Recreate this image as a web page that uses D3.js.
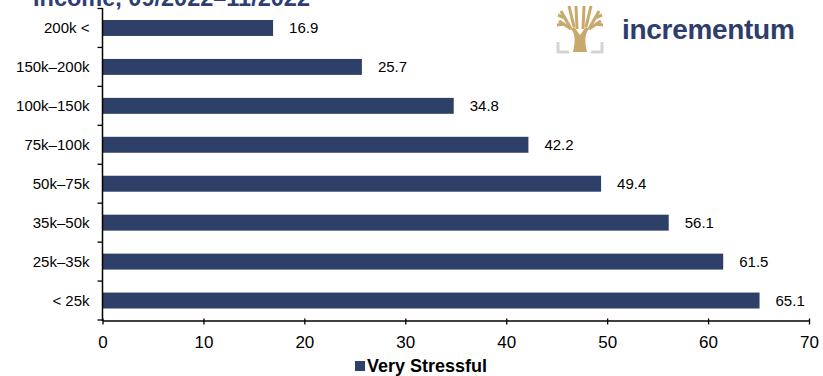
<!DOCTYPE html>
<html>
<head>
<meta charset="utf-8">
<script src="https://cdn.jsdelivr.net/npm/d3@7"></script>
<style>
  body { margin: 0; background: #fff; }
  svg { display: block; font-family: Arial, "Liberation Sans", sans-serif; }
</style>
</head>
<body>
<svg id="chart" width="823" height="376"></svg>
<script>
// data
var categories = ["200k <", "150k\u2013200k", "100k\u2013150k", "75k\u2013100k", "50k\u201375k", "35k\u201350k", "25k\u201335k", "< 25k"];
var veryStressful = [16.9, 25.7, 34.8, 42.2, 49.4, 56.1, 61.5, 65.1];
var xTicks = [0, 10, 20, 30, 40, 50, 60, 70];
var seriesName = "Very Stressful";
var titleText = "Income, 09/2022\u201311/2022";

var navy = "#2E4068";
var narrow = "'Liberation Sans Narrow', 'Arial Narrow', Arial, sans-serif";
var svg = d3.select("#chart");

var x = d3.scaleLinear().domain([0, 70]).range([102.5, 809]);
var y = d3.scaleBand().domain(categories).range([8.5, 320]).paddingInner(0.59).paddingOuter(0.295);

// title, cut off at the top like in the source
svg.append("text")
    .attr("x", 33).attr("y", 6)
    .attr("font-size", 23.5).attr("font-weight", "bold")
    .attr("fill", "#2E3D72")
    .text(titleText);

// bars
svg.selectAll("rect.bar")
    .data(veryStressful)
    .enter().append("rect")
    .attr("class", "bar")
    .attr("x", x(0))
    .attr("y", function(d, i){ return y(categories[i]); })
    .attr("width", function(d){ return x(d) - x(0); })
    .attr("height", y.bandwidth())
    .attr("fill", navy);

// value labels
svg.selectAll("text.val")
    .data(veryStressful)
    .enter().append("text")
    .attr("class", "val")
    .attr("x", function(d){ return x(d) + 16; })
    .attr("y", function(d, i){ return y(categories[i]) + y.bandwidth() / 2; })
    .attr("dy", "0.36em")
    .attr("font-size", 15)
    .attr("fill", "#000")
    .text(function(d){ return d.toFixed(1); });

// x axis
var xAxis = svg.append("g")
    .attr("transform", "translate(0,320.5)")
    .call(d3.axisBottom(x).tickValues(xTicks).tickSize(5).tickSizeOuter(0).tickPadding(10));
xAxis.select(".domain").attr("stroke", "#000").attr("stroke-width", 1.3);
xAxis.selectAll(".tick line").attr("stroke", "#000").attr("stroke-width", 1.3).attr("y1", -2).attr("y2", 4);
xAxis.selectAll("text")
    .attr("font-size", 17)
    .attr("font-family", narrow)
    .attr("fill", "#000");

// y axis: vertical line with ticks between categories
svg.append("line")
    .attr("x1", x(0)).attr("x2", x(0))
    .attr("y1", 8).attr("y2", 321)
    .attr("stroke", "#000").attr("stroke-width", 1.5);
var step = y.step();
svg.selectAll("line.ytick")
    .data(d3.range(0, categories.length + 1))
    .enter().append("line")
    .attr("class", "ytick")
    .attr("x1", x(0) - 5).attr("x2", x(0))
    .attr("y1", function(i){ return 8.5 + i * step; })
    .attr("y2", function(i){ return 8.5 + i * step; })
    .attr("stroke", "#000").attr("stroke-width", 1.3);

svg.selectAll("text.cat")
    .data(categories)
    .enter().append("text")
    .attr("class", "cat")
    .attr("x", x(0) - 13)
    .attr("y", function(d){ return y(d) + y.bandwidth() / 2; })
    .attr("dy", "0.36em")
    .attr("text-anchor", "end")
    .attr("font-size", 15)
    .attr("fill", "#000")
    .text(function(d){ return d; });

// legend
var legend = svg.append("g").attr("transform", "translate(355,360)");
legend.append("rect").attr("x", 0).attr("y", 1).attr("width", 10).attr("height", 10).attr("fill", navy);
legend.append("text")
    .attr("x", 12).attr("y", 12)
    .attr("font-size", 18).attr("font-weight", "bold")
    .attr("font-family", narrow)
    .attr("fill", "#000")
    .text(seriesName);

// logo
var logo = svg.append("g").attr("transform", "translate(557,6)");
var gold = "#C9A96B";
logo.append("path")
    .attr("d", "M16,46 C18,36 19,29 14,23 L17,21 C21,26 23,29 23,29 C23,29 25,26 29,21 L32,23 C27,29 28,36 30,46 Z")
    .attr("fill", gold);
var branches = [
  "M14,23 L2,15", "M14,23 L4,5", "M17,21 L12,0", "M20,23 L19,0",
  "M26,23 L27,0", "M29,21 L34,0", "M32,23 L42,5", "M32,23 L44,15",
  "M8,18 L0,19", "M38,18 L46,19", "M8,12 L1,9", "M38,12 L45,9"
];
logo.selectAll("path.br").data(branches).enter().append("path")
    .attr("d", function(d){ return d; })
    .attr("stroke", gold).attr("stroke-width", 3).attr("fill", "none");
logo.append("path").attr("d", "M1,36 L1,46 L12,46").attr("stroke", "#d3d3d3").attr("stroke-width", 3).attr("fill", "none");
logo.append("path").attr("d", "M34,46 L45,46 L45,36").attr("stroke", "#d3d3d3").attr("stroke-width", 3).attr("fill", "none");
svg.append("text")
    .attr("x", 622).attr("y", 39)
    .attr("font-size", 28).attr("font-weight", "bold")
    .attr("fill", "#2E3D6B")
    .attr("letter-spacing", -0.3)
    .text("incrementum");
</script>
</body>
</html>
